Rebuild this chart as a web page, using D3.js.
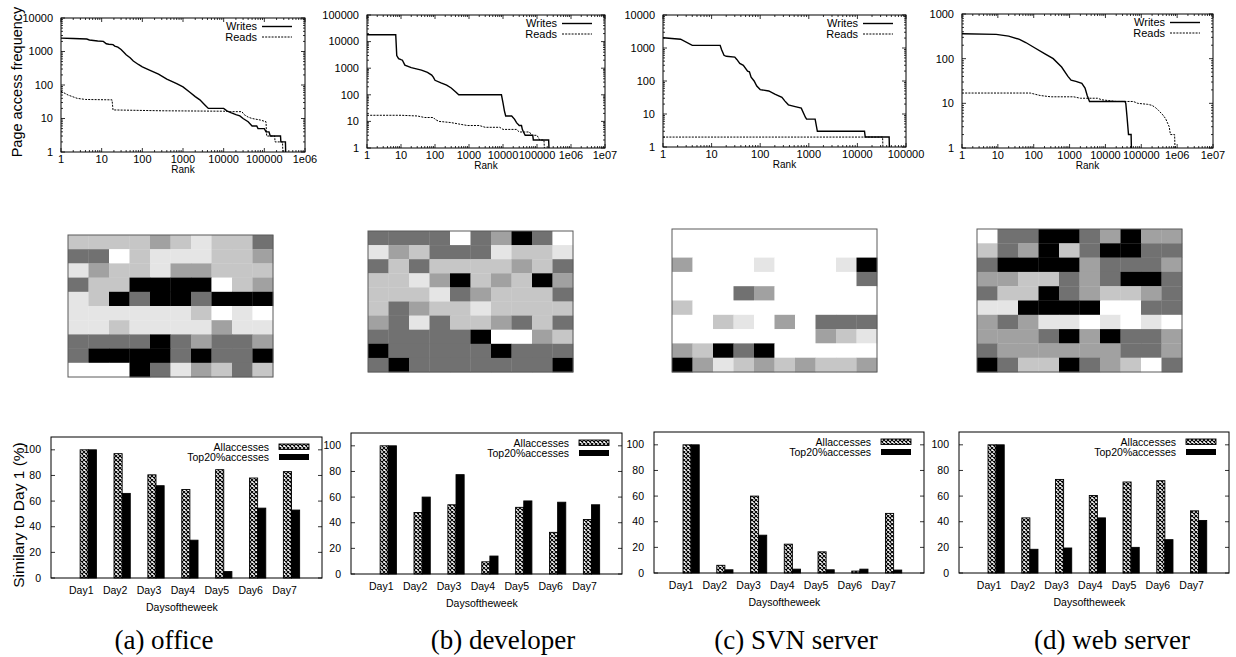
<!DOCTYPE html>
<html>
<head>
<meta charset="utf-8">
<script src="https://cdn.jsdelivr.net/npm/d3@7"></script>
<style>
  html, body { margin: 0; padding: 0; background: #fff; }
  svg { display: block; }
  text { font-family: "Liberation Sans", Arial, Helvetica, sans-serif; fill: #000; }
</style>
</head>
<body>
<svg id="fig" width="1236" height="657"></svg>
<script>
// ---------- Page access frequency vs. rank: [rank, frequency] ----------
const officeWrites = [[1,2500],[2,2450],[4.3,2350],[5,2200],[8,2050],[11,2000],[13,1700],[15,1650],[19,1600],[21,1450],[25,1350],[30,1150],[35,950],[40,800],[50,650],[60,520],[80,410],[100,350],[150,280],[250,210],[400,150],[700,110],[1000,88],[1500,60],[2000,45],[2600,36],[3500,25],[4200,20],[10000,20],[12000,17],[15000,15],[20000,13],[25000,12],[30000,10],[40000,8],[50000,6],[65000,6],[70000,5],[100000,5],[110000,4],[130000,4],[140000,3],[250000,3],[255000,2],[330000,2],[335000,1]];
const officeReads = [[1,65],[1.5,50],[2.5,40],[4,37],[18,36],[19,18],[20,18],[300,17],[10000,16.5],[15000,16],[28000,16],[32000,13],[40000,11],[50000,10],[80000,9],[110000,8],[114000,3],[180000,3],[183000,2],[280000,2],[285000,1]];

const developerWrites = [[1,18000],[7,18000],[7.5,3000],[8.5,2300],[10,2100],[11,2000],[13,1300],[20,1050],[40,850],[60,700],[80,550],[90,450],[100,350],[150,280],[220,230],[300,180],[400,130],[500,100],[9000,100],[10000,50],[11000,25],[12000,16],[18000,16],[22000,12],[25000,9],[30000,7],[35000,7],[37000,5],[40000,4],[45000,3],[75000,3],[78000,2],[220000,2],[225000,1]];
const developerReads = [[1,17],[10,17],[30,16],[50,14],[90,14],[100,12],[130,10],[200,9.5],[300,9],[500,8],[900,7],[2000,7],[3000,6],[8000,6],[10000,5],[25000,5],[30000,4],[60000,4],[70000,3],[100000,3],[120000,2],[160000,2],[165000,1]];

const svnWrites = [[1,2050],[2.3,1850],[4,1200],[15,1200],[16,900],[18,600],[20,560],[30,530],[33,450],[38,340],[45,300],[55,200],[60,190],[65,130],[75,100],[85,70],[100,55],[150,50],[200,40],[280,32],[320,25],[380,19],[500,17],[700,15],[850,8],[900,7],[1350,7],[1500,3],[14000,3],[14500,2],[45000,2],[45500,1]];
const svnReads = [[1,2],[33000,2],[33500,1]];

const webWrites = [[1,360],[9,350],[20,320],[40,270],[60,230],[100,180],[200,130],[350,100],[600,65],[900,40],[1100,33],[1500,31],[2200,28],[2700,22],[3100,15],[3600,11],[35000,11],[37000,10],[40000,5],[44000,2],[52000,2],[53000,1]];
const webReads = [[1,17],[80,17],[150,15],[300,14],[1300,14],[2000,13],[6000,13],[8000,12],[20000,11],[60000,11],[80000,10],[150000,9.5],[200000,9],[250000,8],[300000,7],[400000,5.5],[480000,4.5],[550000,3.5],[600000,3],[650000,2],[850000,2],[870000,1]];

const rankTickLabels = ["1", "10", "100", "1000", "10000", "100000", "1e06", "1e07"];
const freqTickLabels = ["1", "10", "100", "1000", "10000", "100000"];

// ---------- Page access maps: 10x10 cells, shade index 0 (white) .. 5 (black) ----------
const shades = ["#ffffff", "#e5e5e5", "#c6c6c6", "#a1a1a1", "#717171", "#000000"];
const officeGrid = ["2222321224","4402111223","1322133222","4225555023","1254554555","1111112010","1121111311","4444543443","4555545445","0005413242"];
const developerGrid = ["4444043540","1324441221","4242222324","2213523253","2221432224","2432212222","3414223424","4444450032","5444445444","4544444445"];
const svnGrid = ["0000000000","0000000000","3000100015","0000000004","0004300000","2000000000","0021030444","0000000321","3254500000","5312323223"];
const webGrid = ["0445543533","2435245544","4555534443","3322434554","4225432234","1155550044","3431101010","3334535443","4333333443","5422543204"];

// ---------- Similarity to Day 1 (%) ----------
const days = ["Day1", "Day2", "Day3", "Day4", "Day5", "Day6", "Day7"];
const simTicks = [0, 20, 40, 60, 80, 100];
const officeAll = [100, 97, 80.5, 69, 84.5, 78, 83];
const officeTop20 = [100, 66, 72, 29.5, 5, 54.5, 53];
const developerAll = [100, 48, 54, 9.5, 52, 32.5, 42.5];
const developerTop20 = [100, 60, 77.5, 14, 57, 56, 54];
const svnAll = [100, 6, 60, 22.5, 16.5, 1.5, 46.5];
const svnTop20 = [100, 2.5, 29.5, 3, 2.5, 3, 2.3];
const webAll = [100, 43, 73, 60.5, 71, 72, 48.5];
const webTop20 = [100, 18.5, 19.5, 43, 20, 26, 41];

const captions = ["(a) office", "(b) developer", "(c) SVN server", "(d) web server"];

// ---------- layout ----------
const rankPanels = [
  { writes: officeWrites, reads: officeReads, left: 61, right: 305, top: 18, bottom: 152, xExp: 6, yExp: 4 },
  { writes: developerWrites, reads: developerReads, left: 367, right: 605, top: 15, bottom: 148, xExp: 7, yExp: 5 },
  { writes: svnWrites, reads: svnReads, left: 663, right: 906, top: 15, bottom: 147, xExp: 5, yExp: 4 },
  { writes: webWrites, reads: webReads, left: 962, right: 1213, top: 14, bottom: 148, xExp: 7, yExp: 3 }
];
const mapPanels = [
  { grid: officeGrid, left: 68, right: 273, top: 235, bottom: 377 },
  { grid: developerGrid, left: 368, right: 573, top: 231, bottom: 372 },
  { grid: svnGrid, left: 672, right: 877, top: 229, bottom: 372 },
  { grid: webGrid, left: 977, right: 1182, top: 229, bottom: 372 }
];
const barPanels = [
  { all: officeAll, top20: officeTop20, left: 51, right: 322, bottom: 578, dayShift: -7 },
  { all: developerAll, top20: developerTop20, left: 351, right: 622, bottom: 574, dayShift: -7 },
  { all: svnAll, top20: svnTop20, left: 654, right: 924, bottom: 573, dayShift: -10 },
  { all: webAll, top20: webTop20, left: 959, right: 1229, bottom: 573, dayShift: -7 }
];
const captionX = [164, 503, 796, 1112];

const svg = d3.select("#fig");
const defs = svg.append("defs");
const hatch = defs.append("pattern").attr("id", "xhatch")
  .attr("patternUnits", "userSpaceOnUse").attr("width", 4).attr("height", 4);
hatch.append("rect").attr("width", 4).attr("height", 4).attr("fill", "#fff");
hatch.append("path").attr("d", "M0,0L4,4M4,0L0,4").attr("stroke", "#000").attr("stroke-width", 1.1);

function logTicks(maxExp) {
  const major = d3.range(0, maxExp + 1).map(k => Math.pow(10, k));
  const minor = [];
  for (let k = 0; k < maxExp; k++) for (let m = 2; m <= 9; m++) minor.push(m * Math.pow(10, k));
  return { major, minor };
}

// ---------- rank / frequency panels ----------
rankPanels.forEach((p, idx) => {
  const g = svg.append("g");
  const x = d3.scaleLog().domain([1, Math.pow(10, p.xExp)]).range([p.left, p.right]);
  const y = d3.scaleLog().domain([1, Math.pow(10, p.yExp)]).range([p.bottom, p.top]);
  const xt = logTicks(p.xExp), yt = logTicks(p.yExp);

  const ticks = g.append("g").attr("stroke", "#000").attr("stroke-width", 0.8);
  const tick = (x1, y1, x2, y2) => ticks.append("line").attr("x1", x1).attr("y1", y1).attr("x2", x2).attr("y2", y2);
  xt.major.forEach(v => { tick(x(v), p.bottom, x(v), p.bottom - 4); tick(x(v), p.top, x(v), p.top + 4); });
  xt.minor.forEach(v => { tick(x(v), p.bottom, x(v), p.bottom - 2); tick(x(v), p.top, x(v), p.top + 2); });
  yt.major.forEach(v => { tick(p.left, y(v), p.left + 4, y(v)); tick(p.right, y(v), p.right - 4, y(v)); });
  yt.minor.forEach(v => { tick(p.left, y(v), p.left + 2, y(v)); tick(p.right, y(v), p.right - 2, y(v)); });

  defs.append("clipPath").attr("id", "rclip" + idx).append("rect")
    .attr("x", p.left).attr("y", p.top).attr("width", p.right - p.left).attr("height", p.bottom - p.top);
  const line = d3.line().x(d => x(d[0])).y(d => y(d[1]));
  g.append("path").datum(p.reads).attr("d", line).attr("fill", "none")
    .attr("stroke", "#000").attr("stroke-width", 1).attr("stroke-dasharray", "2,1.2")
    .attr("clip-path", `url(#rclip${idx})`);
  g.append("path").datum(p.writes).attr("d", line).attr("fill", "none")
    .attr("stroke", "#000").attr("stroke-width", 1.4)
    .attr("clip-path", `url(#rclip${idx})`);

  g.append("rect").attr("x", p.left).attr("y", p.top)
    .attr("width", p.right - p.left).attr("height", p.bottom - p.top)
    .attr("fill", "none").attr("stroke", "#000").attr("stroke-width", 1);

  g.selectAll(".xl").data(xt.major).join("text")
    .attr("x", d => x(d)).attr("y", p.bottom + 7).attr("dy", "0.35em")
    .attr("text-anchor", "middle").attr("font-size", 11)
    .text((d, i) => rankTickLabels[i]);
  g.selectAll(".yl").data(yt.major).join("text")
    .attr("x", p.left - 8).attr("y", d => y(d)).attr("dy", "0.35em")
    .attr("text-anchor", "end").attr("font-size", 11)
    .text((d, i) => freqTickLabels[i]);
  g.append("text").attr("x", (p.left + p.right) / 2).attr("y", p.bottom + 17).attr("dy", "0.35em")
    .attr("text-anchor", "middle").attr("font-size", 10).text("Rank");

  // legend
  const lx1 = p.right - 43, lx2 = p.right - 13;
  [["Writes", null, 1.4, 8.5], ["Reads", "2,1.2", 1, 19]].forEach(([label, dash, w, dy]) => {
    g.append("text").attr("x", lx1 - 5).attr("y", p.top + dy).attr("dy", "0.35em")
      .attr("text-anchor", "end").attr("font-size", 11).text(label);
    g.append("line").attr("x1", lx1).attr("x2", lx2).attr("y1", p.top + dy).attr("y2", p.top + dy)
      .attr("stroke", "#000").attr("stroke-width", w).attr("stroke-dasharray", dash);
  });
});

svg.append("text").attr("transform", "translate(17,82) rotate(-90)")
  .attr("text-anchor", "middle").attr("dy", "0.35em").attr("font-size", 14.5)
  .text("Page access frequency");

// ---------- page access maps ----------
mapPanels.forEach(p => {
  const g = svg.append("g");
  const cols = d3.scaleBand().domain(d3.range(10)).range([p.left, p.right]);
  const rows = d3.scaleBand().domain(d3.range(10)).range([p.top, p.bottom]);
  const cells = [];
  p.grid.forEach((row, r) => row.split("").forEach((s, c) => cells.push({ r, c, s: +s })));
  g.selectAll("rect.cell").data(cells).join("rect")
    .attr("x", d => cols(d.c)).attr("y", d => rows(d.r))
    .attr("width", cols.bandwidth() + 0.3).attr("height", rows.bandwidth() + 0.3)
    .attr("fill", d => shades[d.s]);
  g.append("rect").attr("x", p.left).attr("y", p.top)
    .attr("width", p.right - p.left).attr("height", p.bottom - p.top)
    .attr("fill", "none").attr("stroke", "#5a5a5a").attr("stroke-width", 1);
});

// ---------- similarity bar charts ----------
const barW = 0.24;
barPanels.forEach(p => {
  const g = svg.append("g");
  const top = p.bottom - 141;
  const x = d3.scaleLinear().domain([-1.1, 6.9]).range([p.left, p.right]);
  const y = d3.scaleLinear().domain([0, 110]).range([p.bottom, top]);

  g.selectAll("rect.all").data(p.all).join("rect")
    .attr("x", (d, i) => x(i - barW)).attr("width", x(barW) - x(0))
    .attr("y", d => y(d)).attr("height", d => y(0) - y(d))
    .attr("fill", "url(#xhatch)").attr("stroke", "#000").attr("stroke-width", 0.9);
  g.selectAll("rect.top").data(p.top20).join("rect")
    .attr("x", (d, i) => x(i)).attr("width", x(barW) - x(0))
    .attr("y", d => y(d)).attr("height", d => y(0) - y(d))
    .attr("fill", "#000").attr("stroke", "#000").attr("stroke-width", 0.9);

  simTicks.forEach(v => {
    g.append("line").attr("x1", p.left).attr("x2", p.left + 4).attr("y1", y(v)).attr("y2", y(v)).attr("stroke", "#000").attr("stroke-width", 0.8);
    g.append("line").attr("x1", p.right).attr("x2", p.right - 4).attr("y1", y(v)).attr("y2", y(v)).attr("stroke", "#000").attr("stroke-width", 0.8);
    g.append("text").attr("x", p.left - 10).attr("y", y(v)).attr("dy", "0.35em")
      .attr("text-anchor", "end").attr("font-size", 10.5).text(v);
  });

  g.append("rect").attr("x", p.left).attr("y", top)
    .attr("width", p.right - p.left).attr("height", p.bottom - top)
    .attr("fill", "none").attr("stroke", "#000").attr("stroke-width", 1);

  g.selectAll("text.day").data(days).join("text")
    .attr("x", (d, i) => x(i) + p.dayShift).attr("y", p.bottom + 12).attr("dy", "0.35em")
    .attr("text-anchor", "middle").attr("font-size", 10.5).text(d => d);
  g.append("text").attr("x", x(3) - 8).attr("y", p.bottom + 29).attr("dy", "0.35em")
    .attr("text-anchor", "middle").attr("font-size", 10.5).text("Daysoftheweek");

  // legend
  const sx = p.right - 43;
  g.append("text").attr("x", sx - 10).attr("y", top + 10).attr("dy", "0.35em")
    .attr("text-anchor", "end").attr("font-size", 10.5).text("Allaccesses");
  g.append("rect").attr("x", sx).attr("y", top + 7).attr("width", 30).attr("height", 5.5)
    .attr("fill", "url(#xhatch)").attr("stroke", "#000").attr("stroke-width", 0.9);
  g.append("text").attr("x", sx - 10).attr("y", top + 20).attr("dy", "0.35em")
    .attr("text-anchor", "end").attr("font-size", 10.5).text("Top20%accesses");
  g.append("rect").attr("x", sx).attr("y", top + 17).attr("width", 30).attr("height", 6)
    .attr("fill", "#000");
});

svg.append("text").attr("transform", "translate(19,515) rotate(-90)")
  .attr("text-anchor", "middle").attr("dy", "0.35em").attr("font-size", 15.5)
  .text("Similary to Day 1 (%)");

// ---------- sub-figure captions ----------
svg.selectAll("text.cap").data(captions).join("text")
  .attr("x", (d, i) => captionX[i]).attr("y", 649)
  .attr("text-anchor", "middle")
  .style("font-family", "'Liberation Serif', 'Times New Roman', serif")
  .attr("font-size", 27).text(d => d);
</script>
</body>
</html>
